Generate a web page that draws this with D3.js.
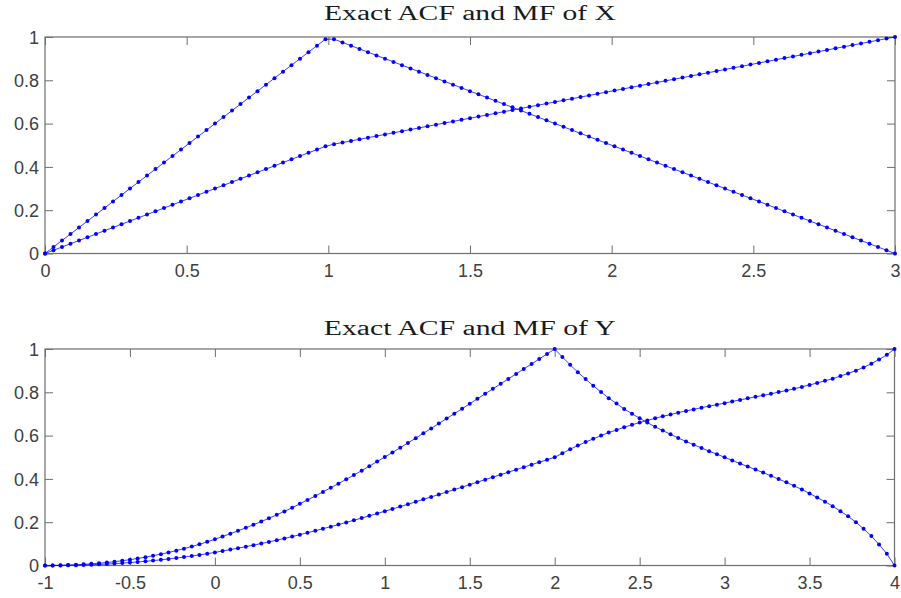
<!DOCTYPE html>
<html>
<head>
<meta charset="utf-8">
<script src="https://cdn.jsdelivr.net/npm/d3@7"></script>
<style>
html,body{margin:0;padding:0;background:#fff;}
svg{display:block;}
</style>
</head>
<body>
<svg id="chart" width="901" height="598"></svg>
<script>
// ---------- DATA ----------
const titleX = "Exact ACF and MF of X";
const titleY = "Exact ACF and MF of Y";

const xTicksTop = [0, 0.5, 1, 1.5, 2, 2.5, 3];
const xTicksBottom = [-1, -0.5, 0, 0.5, 1, 1.5, 2, 2.5, 3, 3.5, 4];
const yTicks = [0, 0.2, 0.4, 0.6, 0.8, 1];

const tX = [0,0.03,0.06,0.09,0.12,0.15,0.18,0.21,0.24,0.27,0.3,0.33,0.36,0.39,0.42,0.45,0.48,0.51,0.54,0.57,0.6,0.63,0.66,0.69,0.72,0.75,0.78,0.81,0.84,0.87,0.9,0.93,0.96,0.99,1.02,1.05,1.08,1.11,1.14,1.17,1.2,1.23,1.26,1.29,1.32,1.35,1.38,1.41,1.44,1.47,1.5,1.53,1.56,1.59,1.62,1.65,1.68,1.71,1.74,1.77,1.8,1.83,1.86,1.89,1.92,1.95,1.98,2.01,2.04,2.07,2.1,2.13,2.16,2.19,2.22,2.25,2.28,2.31,2.34,2.37,2.4,2.43,2.46,2.49,2.52,2.55,2.58,2.61,2.64,2.67,2.7,2.73,2.76,2.79,2.82,2.85,2.88,2.91,2.94,2.97,3];

const acfX = [0,0.03,0.06,0.09,0.12,0.15,0.18,0.21,0.24,0.27,0.3,0.33,0.36,0.39,0.42,0.45,0.48,0.51,0.54,0.57,0.6,0.63,0.66,0.69,0.72,0.75,0.78,0.81,0.84,0.87,0.9,0.93,0.96,0.99,
0.99,0.975,0.96,0.945,0.93,0.915,0.9,0.885,0.87,0.855,0.84,0.825,0.81,0.795,0.78,0.765,0.75,0.735,0.72,0.705,0.69,0.675,0.66,0.645,0.63,0.615,0.6,0.585,0.57,0.555,0.54,0.525,0.51,0.495,0.48,0.465,0.45,0.435,0.42,0.405,0.39,0.375,0.36,0.345,0.33,0.315,0.3,0.285,0.27,0.255,0.24,0.225,0.21,0.195,0.18,0.165,0.15,0.135,0.12,0.105,0.09,0.075,0.06,0.045,0.03,0.015,0];

const mfX = [0,0.015,0.03,0.045,0.06,0.075,0.09,0.105,0.12,0.135,0.15,0.165,0.18,0.195,0.21,0.225,0.24,0.255,0.27,0.285,0.3,0.315,0.33,0.345,0.36,0.375,0.39,0.405,0.42,0.435,0.45,0.465,0.48,0.495,
0.505,0.5125,0.52,0.5275,0.535,0.5425,0.55,0.5575,0.565,0.5725,0.58,0.5875,0.595,0.6025,0.61,0.6175,0.625,0.6325,0.64,0.6475,0.655,0.6625,0.67,0.6775,0.685,0.6925,0.7,0.7075,0.715,0.7225,0.73,0.7375,0.745,0.7525,0.76,0.7675,0.775,0.7825,0.79,0.7975,0.805,0.8125,0.82,0.8275,0.835,0.8425,0.85,0.8575,0.865,0.8725,0.88,0.8875,0.895,0.9025,0.91,0.9175,0.925,0.9325,0.94,0.9475,0.955,0.9625,0.97,0.9775,0.985,0.9925,1];

const tY = [-1,-0.955,-0.909,-0.864,-0.818,-0.773,-0.727,-0.682,-0.636,-0.591,-0.545,-0.5,-0.455,-0.409,-0.364,-0.318,-0.273,-0.227,-0.182,-0.136,-0.091,-0.045,0,0.045,0.091,0.136,0.182,0.227,0.273,0.318,0.364,0.409,0.455,0.5,0.545,0.591,0.636,0.682,0.727,0.773,0.818,0.864,0.909,0.955,1,1.045,1.091,1.136,1.182,1.227,1.273,1.318,1.364,1.409,1.455,1.5,1.545,1.591,1.636,1.682,1.727,1.773,1.818,1.864,1.909,1.955,2,2.045,2.091,2.136,2.182,2.227,2.273,2.318,2.364,2.409,2.455,2.5,2.545,2.591,2.636,2.682,2.727,2.773,2.818,2.864,2.909,2.955,3,3.045,3.091,3.136,3.182,3.227,3.273,3.318,3.364,3.409,3.455,3.5,3.545,3.591,3.636,3.682,3.727,3.773,3.818,3.864,3.909,3.955,4];

const acfY = [0,0.0002,0.0008,0.0018,0.0033,0.0052,0.0076,0.0105,0.0138,0.0177,0.0221,0.027,0.0325,0.0385,0.0452,0.0524,0.0602,0.0687,0.0778,0.0876,0.098,0.1092,0.121,0.134,0.147,0.160,0.174,0.188,0.203,0.218,0.234,0.250,0.267,0.285,0.303,0.321,0.340,0.359,0.378,0.398,0.418,0.438,0.459,0.480,0.501,0.522,0.544,0.566,0.588,0.611,0.633,0.656,0.679,0.701,0.724,0.747,0.770,0.793,0.816,0.839,0.862,0.885,0.908,0.931,0.954,0.977,1,
0.963,0.927,0.893,0.861,0.830,0.801,0.773,0.748,0.723,0.701,0.680,0.660,0.641,0.623,0.606,0.589,0.573,0.558,0.543,0.528,0.514,0.500,0.485,0.471,0.457,0.443,0.429,0.414,0.399,0.384,0.368,0.351,0.333,0.314,0.295,0.274,0.251,0.227,0.200,0.170,0.136,0.097,0.054,0];

const mfY = [0,0.0001,0.0004,0.0009,0.0017,0.0026,0.0038,0.0052,0.0069,0.0088,0.011,0.0135,0.0162,0.0193,0.0226,0.0262,0.0301,0.0344,0.0389,0.0438,0.049,0.0546,0.0605,0.067,0.0735,0.08,0.087,0.094,0.1015,0.109,0.117,0.125,0.1335,0.1425,0.1515,0.1605,0.17,0.1795,0.189,0.199,0.209,0.219,0.2295,0.24,0.2505,0.261,0.272,0.283,0.294,0.3055,0.3165,0.328,0.3395,0.3505,0.362,0.3735,0.385,0.3965,0.408,0.4195,0.431,0.4425,0.454,0.4655,0.477,0.4885,0.5,
0.518,0.537,0.554,0.570,0.585,0.600,0.614,0.626,0.639,0.650,0.660,0.670,0.680,0.689,0.697,0.706,0.714,0.721,0.729,0.736,0.743,0.750,0.758,0.765,0.772,0.779,0.786,0.793,0.801,0.808,0.816,0.825,0.834,0.843,0.853,0.863,0.875,0.887,0.900,0.915,0.932,0.952,0.973,1];

// ---------- DRAW ----------
const svg = d3.select("#chart");
const AXIS_COLOR = "#6e6e6e";
const TEXT_COLOR = "#404040";
const LINE_COLOR = "#0000ff";

function panel(cfg) {
  const { left, right, top, bottom, xDomain, xTicks, xs, series, title, titleBaseline } = cfg;
  const x = d3.scaleLinear().domain(xDomain).range([left, right]);
  const y = d3.scaleLinear().domain([0, 1]).range([bottom, top]);
  const g = svg.append("g");
  const fmt = d => String(d);

  const axB = g.append("g").attr("transform", `translate(0,${bottom})`)
    .call(d3.axisBottom(x).tickValues(xTicks).tickFormat(fmt).tickSizeInner(-8).tickSizeOuter(0).tickPadding(12));
  const axT = g.append("g").attr("transform", `translate(0,${top})`)
    .call(d3.axisTop(x).tickValues(xTicks).tickFormat("").tickSizeInner(-8).tickSizeOuter(0));
  const axL = g.append("g").attr("transform", `translate(${left},0)`)
    .call(d3.axisLeft(y).tickValues(yTicks).tickFormat(fmt).tickSizeInner(-8).tickSizeOuter(0).tickPadding(7));
  const axR = g.append("g").attr("transform", `translate(${right},0)`)
    .call(d3.axisRight(y).tickValues(yTicks).tickFormat("").tickSizeInner(-8).tickSizeOuter(0));

  [axB, axT, axL, axR].forEach(a => {
    a.select(".domain").remove();
    a.selectAll(".tick line").attr("stroke", AXIS_COLOR).attr("stroke-width", 1);
    a.selectAll("text").attr("fill", TEXT_COLOR)
      .style("font-family", "'Liberation Sans', Arial, sans-serif")
      .style("font-size", "18px");
  });
  axB.selectAll(".tick text").attr("y", 11).attr("dy", "0.71em");
  axL.selectAll(".tick text").attr("x", -6).attr("dy", "0.35em");

  g.append("rect")
    .attr("x", left).attr("y", top)
    .attr("width", right - left).attr("height", bottom - top)
    .attr("fill", "none").attr("stroke", AXIS_COLOR).attr("stroke-width", 1.2);

  const line = d3.line().x(d => x(d[0])).y(d => y(d[1]));
  series.forEach(vals => {
    const pts = xs.map((v, i) => [v, vals[i]]).filter(p => p[1] !== undefined);
    g.append("path").datum(pts)
      .attr("d", line).attr("fill", "none")
      .attr("stroke", LINE_COLOR).attr("stroke-width", 1).attr("stroke-opacity", 0.75);
    g.append("g").selectAll("circle").data(pts).join("circle")
      .attr("cx", d => x(d[0])).attr("cy", d => y(d[1])).attr("r", 2)
      .attr("fill", LINE_COLOR);
  });

  svg.append("text")
    .attr("x", (left + right) / 2).attr("y", titleBaseline)
    .attr("text-anchor", "middle")
    .attr("textLength", 292).attr("lengthAdjust", "spacingAndGlyphs")
    .style("font-family", "'Liberation Serif', 'Times New Roman', serif")
    .style("font-size", "20px")
    .attr("fill", "#1a1a1a")
    .text(title);
}

panel({
  left: 45, right: 895, top: 37, bottom: 253.5,
  xDomain: [0, 3], xTicks: xTicksTop, xs: tX,
  series: [acfX, mfX], title: titleX, titleBaseline: 20
});

panel({
  left: 45, right: 894.5, top: 349, bottom: 565.5,
  xDomain: [-1, 4], xTicks: xTicksBottom, xs: tY,
  series: [acfY, mfY], title: titleY, titleBaseline: 335
});
</script>
</body>
</html>
